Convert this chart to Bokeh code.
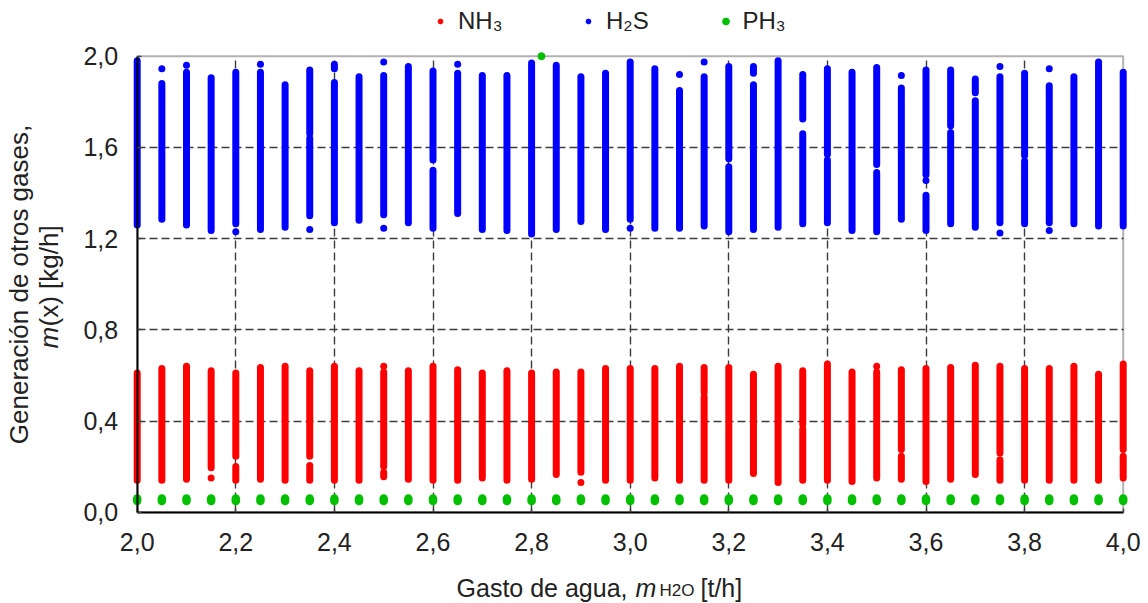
import math
from bokeh.plotting import figure
from bokeh.models import (Range1d, FixedTicker, Label, Legend, LegendItem,
                          ColumnDataSource, BoxAnnotation)
from bokeh.embed import file_html
from bokeh.resources import INLINE

# ---------------- data ----------------
x_vals = [2.00, 2.05, 2.10, 2.15, 2.20, 2.25, 2.30, 2.35, 2.40, 2.45, 2.50,
          2.55, 2.60, 2.65, 2.70, 2.75, 2.80, 2.85, 2.90, 2.95, 3.00, 3.05,
          3.10, 3.15, 3.20, 3.25, 3.30, 3.35, 3.40, 3.45, 3.50, 3.55, 3.60,
          3.65, 3.70, 3.75, 3.80, 3.85, 3.90, 3.95, 4.00]

# H2S: runs of points per column (low, high) in kg/h
h2s_runs = [
    [(1.26, 1.98)],
    [(1.945, 1.945), (1.285, 1.88)],
    [(1.96, 1.96), (1.26, 1.93)],
    [(1.235, 1.905)],
    [(1.23, 1.23), (1.265, 1.93)],
    [(1.965, 1.965), (1.24, 1.93)],
    [(1.25, 1.875)],
    [(1.66, 1.94), (1.30, 1.64), (1.24, 1.24)],
    [(1.945, 1.965), (1.27, 1.885)],
    [(1.28, 1.91)],
    [(1.975, 1.975), (1.305, 1.915), (1.245, 1.245)],
    [(1.27, 1.955)],
    [(1.545, 1.935), (1.245, 1.50)],
    [(1.965, 1.965), (1.31, 1.925)],
    [(1.24, 1.915)],
    [(1.235, 1.915)],
    [(1.22, 1.97)],
    [(1.24, 1.96)],
    [(1.275, 1.91)],
    [(1.24, 1.925)],
    [(1.285, 1.975), (1.245, 1.245)],
    [(1.245, 1.945)],
    [(1.92, 1.92), (1.245, 1.85)],
    [(1.975, 1.975), (1.255, 1.91)],
    [(1.55, 1.955), (1.23, 1.515)],
    [(1.925, 1.955), (1.24, 1.875)],
    [(1.25, 1.98)],
    [(1.725, 1.92), (1.265, 1.66)],
    [(1.57, 1.945), (1.27, 1.545)],
    [(1.235, 1.93)],
    [(1.525, 1.95), (1.23, 1.49)],
    [(1.915, 1.915), (1.285, 1.86)],
    [(1.48, 1.94), (1.455, 1.455), (1.235, 1.39)],
    [(1.695, 1.94), (1.265, 1.665)],
    [(1.84, 1.90), (1.25, 1.805)],
    [(1.955, 1.955), (1.27, 1.91), (1.225, 1.225)],
    [(1.565, 1.925), (1.265, 1.54)],
    [(1.945, 1.945), (1.27, 1.87), (1.235, 1.235)],
    [(1.265, 1.91)],
    [(1.255, 1.975)],
    [(1.255, 1.93)],
]

# NH3: runs of points per column (low, high) in kg/h
nh3_runs = [
    [(0.14, 0.61)],
    [(0.14, 0.63)],
    [(0.145, 0.64)],
    [(0.195, 0.62), (0.15, 0.15)],
    [(0.245, 0.61), (0.14, 0.20)],
    [(0.145, 0.635)],
    [(0.14, 0.64)],
    [(0.245, 0.62), (0.14, 0.205)],
    [(0.14, 0.64)],
    [(0.14, 0.62)],
    [(0.64, 0.64), (0.20, 0.615), (0.155, 0.175)],
    [(0.145, 0.62)],
    [(0.14, 0.64)],
    [(0.14, 0.625)],
    [(0.15, 0.61)],
    [(0.14, 0.62)],
    [(0.145, 0.61)],
    [(0.165, 0.615)],
    [(0.175, 0.615), (0.13, 0.13)],
    [(0.14, 0.63)],
    [(0.14, 0.63)],
    [(0.15, 0.63)],
    [(0.14, 0.64)],
    [(0.525, 0.635), (0.14, 0.505)],
    [(0.14, 0.635)],
    [(0.17, 0.605)],
    [(0.13, 0.64)],
    [(0.385, 0.62), (0.14, 0.365)],
    [(0.14, 0.65)],
    [(0.135, 0.615)],
    [(0.64, 0.64), (0.15, 0.615)],
    [(0.275, 0.625), (0.145, 0.245)],
    [(0.135, 0.63)],
    [(0.145, 0.635)],
    [(0.165, 0.645)],
    [(0.26, 0.64), (0.14, 0.23)],
    [(0.14, 0.63)],
    [(0.14, 0.63)],
    [(0.14, 0.64)],
    [(0.14, 0.605)],
    [(0.275, 0.65), (0.15, 0.245)],
]

# PH3: small stack of points per column
ph3_low = [0.049, 0.049, 0.049, 0.049, 0.049, 0.049, 0.049, 0.049, 0.049,
           0.049, 0.049, 0.049, 0.049, 0.049, 0.049, 0.049, 0.049, 0.049,
           0.049, 0.049, 0.049, 0.049, 0.049, 0.049, 0.049, 0.049, 0.049,
           0.049, 0.049, 0.049, 0.049, 0.049, 0.049, 0.049, 0.049, 0.049,
           0.049, 0.049, 0.049, 0.049, 0.049]
ph3_high = [0.060, 0.060, 0.060, 0.060, 0.060, 0.060, 0.060, 0.060, 0.060,
            0.060, 0.060, 0.060, 0.060, 0.060, 0.060, 0.060, 0.060, 0.060,
            0.060, 0.060, 0.060, 0.060, 0.060, 0.060, 0.060, 0.060, 0.060,
            0.060, 0.060, 0.060, 0.060, 0.060, 0.060, 0.060, 0.060, 0.060,
            0.060, 0.060, 0.060, 0.060, 0.060]
ph3_extra_x = [2.82]
ph3_extra_y = [2.00]

x_ticks = [2.0, 2.2, 2.4, 2.6, 2.8, 3.0, 3.2, 3.4, 3.6, 3.8, 4.0]
y_ticks = [0.0, 0.4, 0.8, 1.2, 1.6, 2.0]
x_grid = [2.2, 2.4, 2.6, 2.8, 3.0, 3.2, 3.4, 3.6, 3.8]
y_grid = [0.4, 0.8, 1.2, 1.6]

series_names = ["NH₃", "H₂S", "PH₃"]

# ---------------- geometry / styling ----------------
RED, BLUE, GREEN = "#ff0000", "#0000ff", "#00c000"
TXT = "#222222"
FONT = "Liberation Sans"

W, H = 1148, 603
X0, XS = 136.7, 493.0     # pixel of x=2.0, pixels per unit
Y0, YS = 511.7, 228.0     # pixel of y=0.0, pixels per unit


def px_x(ix):
    return 2.0 + (ix - X0) / XS


def px_y(iy):
    return (Y0 - iy) / YS


# the frame spans the whole canvas so texts placed around the axes box stay visible
p = figure(width=W, height=H,
           x_range=Range1d(px_x(0), px_x(W)), y_range=Range1d(px_y(H), px_y(0)),
           output_backend="svg", toolbar_location=None,
           min_border_left=0, min_border_right=0,
           min_border_top=0, min_border_bottom=0)
p.title.visible = False
p.outline_line_color = None
p.background_fill_color = "white"
p.border_fill_color = "white"

p.xaxis.fixed_location = 0.0
p.yaxis.fixed_location = 2.0
p.xaxis.bounds = (2.0, 4.0)
p.yaxis.bounds = (0.0, 2.0)

for ax in (p.xaxis[0], p.yaxis[0]):
    ax.axis_line_color = "black"
    ax.axis_line_width = 2
    ax.major_tick_in = 4
    ax.major_tick_out = 0
    ax.major_tick_line_color = "#444444"
    ax.major_tick_line_width = 1.5
    ax.minor_tick_line_color = None
    ax.major_label_text_font = FONT
    ax.major_label_text_font_size = "25px"
    ax.major_label_text_color = TXT

p.xaxis.ticker = FixedTicker(ticks=x_ticks)
p.yaxis.ticker = FixedTicker(ticks=y_ticks)
p.xaxis.major_label_overrides = {t: f"{t:.1f}".replace(".", ",") for t in x_ticks}
p.yaxis.major_label_overrides = {t: f"{t:.1f}".replace(".", ",") for t in y_ticks}
p.xaxis.major_label_standoff = 21
p.yaxis.major_label_standoff = 19

p.xgrid.ticker = FixedTicker(ticks=x_grid)
p.ygrid.ticker = FixedTicker(ticks=y_grid)
p.xgrid.cross_bounds = (0.0, 2.0)
p.ygrid.cross_bounds = (2.0, 4.0)
for g in (p.xgrid[0], p.ygrid[0]):
    g.grid_line_color = "#3c3c3c"
    g.grid_line_width = 1.4
    g.grid_line_dash = "8 4"

# top / right edges of the axes box
p.add_layout(BoxAnnotation(left=2.0, right=4.0, bottom=0.0, top=2.0,
                           fill_alpha=0.0, line_color="black", line_width=2,
                           level="underlay"))


def runs_to_source(xs, runs):
    x0, y0, y1 = [], [], []
    for x, col in zip(xs, runs):
        for lo, hi in col:
            x0.append(x)
            y0.append(lo)
            y1.append(hi)
    return ColumnDataSource(dict(x=x0, y0=y0, y1=y1))


src_h2s = runs_to_source(x_vals, h2s_runs)
src_nh3 = runs_to_source(x_vals, nh3_runs)
src_ph3 = ColumnDataSource(dict(x=x_vals, y0=ph3_low, y1=ph3_high))

p.segment(x0="x", y0="y0", x1="x", y1="y1", source=src_h2s,
          line_color=BLUE, line_width=7, line_cap="round")
p.segment(x0="x", y0="y0", x1="x", y1="y1", source=src_nh3,
          line_color=RED, line_width=7, line_cap="round")
p.segment(x0="x", y0="y0", x1="x", y1="y1", source=src_ph3,
          line_color=GREEN, line_width=8.5, line_cap="round")
p.scatter(ph3_extra_x, ph3_extra_y, size=7, color=GREEN)

# ---------------- legend (one legend per entry, above the axes box) ----
# Bokeh sizes a legend marker as 0.4 x the glyph box, so the box width sets it
nan = float("nan")
legend_marks = [p.scatter([nan], [nan], size=5, color=RED),
                p.scatter([nan], [nan], size=5, color=BLUE),
                p.scatter([nan], [nan], size=7, color=GREEN)]
leg_cx = [440, 588, 725]          # pixel centres of the legend markers
leg_gw = [12, 12, 17]             # glyph box widths -> marker diameters
for name, r, cx, gw in zip(series_names, legend_marks, leg_cx, leg_gw):
    lg = Legend(items=[LegendItem(label=name, renderers=[r])],
                location=(cx - gw / 2, H - 21 - 14), orientation="horizontal",
                border_line_color=None, background_fill_alpha=0,
                padding=0, margin=0, spacing=0,
                glyph_width=gw, glyph_height=28, label_height=28,
                label_standoff=int(round(17.5 - gw / 2)),
                label_text_font=FONT, label_text_font_size="24px",
                label_text_color=TXT)
    p.add_layout(lg)


def lab(x, y, text, size, style="normal", align="left", angle=0.0):
    p.add_layout(Label(x=x, y=y, text=text, text_font=FONT,
                       text_font_size=size, text_font_style=style,
                       text_color=TXT, text_align=align,
                       text_baseline="alphabetic", angle=angle))


# x title: Gasto de agua, m_H2O [t/h]
lab(px_x(627), px_y(587), "Gasto de agua,", "25px", align="right")
lab(px_x(635), px_y(587), "m", "25px", style="italic")
lab(px_x(659), px_y(590), "H2O", "17px")
lab(px_x(700), px_y(587), "[t/h]", "25px")

# y title (rotated)
rot = math.pi / 2
lab(px_x(18), px_y(284), "Generación de otros gases,", "26px", align="center", angle=rot)
lab(px_x(48), px_y(348), "m", "26px", style="italic", angle=rot)
lab(px_x(48), px_y(326), "(x) [kg/h]", "26px", angle=rot)

open("out.html", "w").write(file_html(p, INLINE))
